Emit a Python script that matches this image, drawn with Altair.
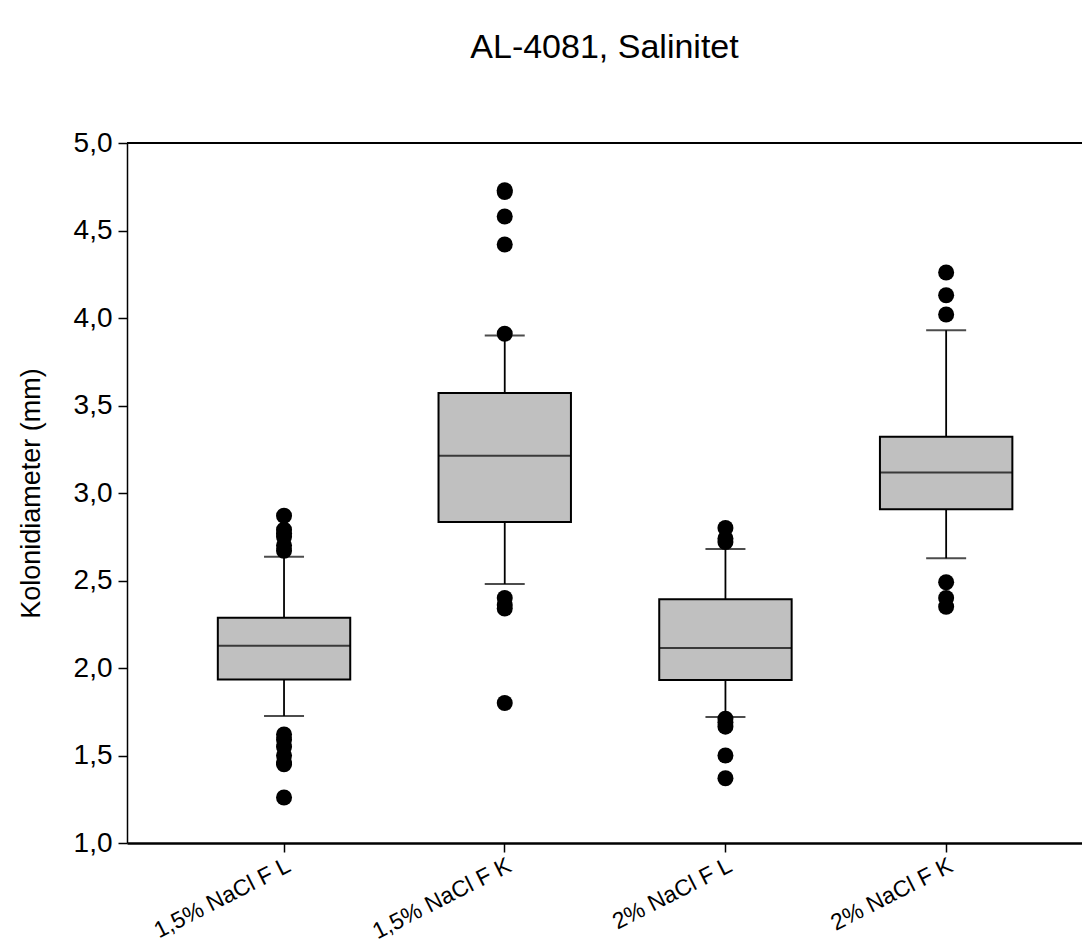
import altair as alt
import pandas as pd

categories = ["1,5% NaCl F L", "1,5% NaCl F K", "2% NaCl F L", "2% NaCl F K"]
q1 = [1.935, 2.834, 1.931, 2.907]
median = [2.127, 3.213, 2.114, 3.117]
q3 = [2.287, 3.571, 2.393, 3.322]
whisker_low = [1.726, 2.48, 1.72, 2.627]
whisker_high = [2.636, 3.90, 2.68, 3.93]

outliers_1 = [2.87, 2.79, 2.77, 2.75, 2.70, 2.67, 1.62, 1.59, 1.55, 1.50, 1.46, 1.45, 1.26]
outliers_2 = [4.73, 4.72, 4.58, 4.42, 3.91, 2.40, 2.36, 2.34, 1.80]
outliers_3 = [2.80, 2.74, 2.72, 1.71, 1.69, 1.665, 1.50, 1.37]
outliers_4 = [4.26, 4.13, 4.02, 2.49, 2.40, 2.35]

FONT = "Liberation Sans"

stats = pd.DataFrame({
    "cat": categories, "q1": q1, "median": median, "q3": q3,
    "lo": whisker_low, "hi": whisker_high,
})
out_rows = []
for c, vals in zip(categories, [outliers_1, outliers_2, outliers_3, outliers_4]):
    for v in vals:
        out_rows.append({"cat": c, "v": v})
outs = pd.DataFrame(out_rows)

xscale = alt.Scale(domain=categories, paddingInner=0.4, paddingOuter=0.3635, align=0.566)
yscale = alt.Scale(domain=[1.0, 5.0], nice=False, zero=False)

x_enc = alt.X("cat:N", scale=xscale, sort=categories,
              axis=alt.Axis(title=None, labelAngle=333, labelAlign="right", labelBaseline="top",
                            labelFontSize=23, labelFont=FONT, labelColor="black",
                            tickSize=9, tickColor="black", tickWidth=1.5,
                            domainColor="black", domainWidth=2.5, labelPadding=2))
y_axis = alt.Axis(title="Kolonidiameter (mm)", values=[1.0, 1.5, 2.0, 2.5, 3.0, 3.5, 4.0, 4.5, 5.0],
                  labelExpr="replace(format(datum.value, '.1f'), '.', ',')",
                  labelFontSize=28, labelFont=FONT, labelColor="black",
                  tickSize=9, tickColor="black", tickWidth=1.5,
                  domainColor="black", domainWidth=1.5, labelPadding=6,
                  titleFontSize=27, titleFont=FONT, titleFontWeight="normal", titleColor="black",
                  titleX=-96, titleY=350, titleAngle=270, titleAlign="center", titleBaseline="middle",
                  grid=False)

base = alt.Chart(stats)

whiskers = base.mark_rule(color="black", strokeWidth=1.8).encode(
    x=x_enc, y=alt.Y("lo:Q", scale=yscale, axis=y_axis), y2="hi:Q")
boxes = base.mark_bar(color="#c0c0c0", stroke="black", strokeWidth=2).encode(
    x=x_enc, y=alt.Y("q1:Q", scale=yscale), y2="q3:Q")
med = base.mark_tick(color="black", size=132, thickness=2).encode(
    x=x_enc, y=alt.Y("median:Q", scale=yscale))
cap_lo = base.mark_tick(color="black", size=40, thickness=2).encode(
    x=x_enc, y=alt.Y("lo:Q", scale=yscale))
cap_hi = base.mark_tick(color="black", size=40, thickness=2).encode(
    x=x_enc, y=alt.Y("hi:Q", scale=yscale))
points = alt.Chart(outs).mark_circle(color="black", size=256, opacity=1).encode(
    x=x_enc, y=alt.Y("v:Q", scale=yscale))
top_line = alt.Chart(stats).mark_rule(color="black", strokeWidth=1.8).encode(
    y=alt.datum(5.0))

chart = alt.layer(whiskers, boxes, med, cap_lo, cap_hi, points, top_line).properties(
    width=955, height=700,
    title=alt.TitleParams("AL-4081, Salinitet", fontSize=34, font=FONT, fontWeight="normal",
                          color="black", anchor="middle", frame="group", offset=37,
                          baseline="alphabetic"),
    autosize=alt.AutoSizeParams(type="none"),
    padding={"left": 119, "top": 135, "right": 0, "bottom": 100},
).configure_view(stroke=None).configure(background="white")

chart.save("out.html", embed_options={"renderer": "svg", "actions": False})
